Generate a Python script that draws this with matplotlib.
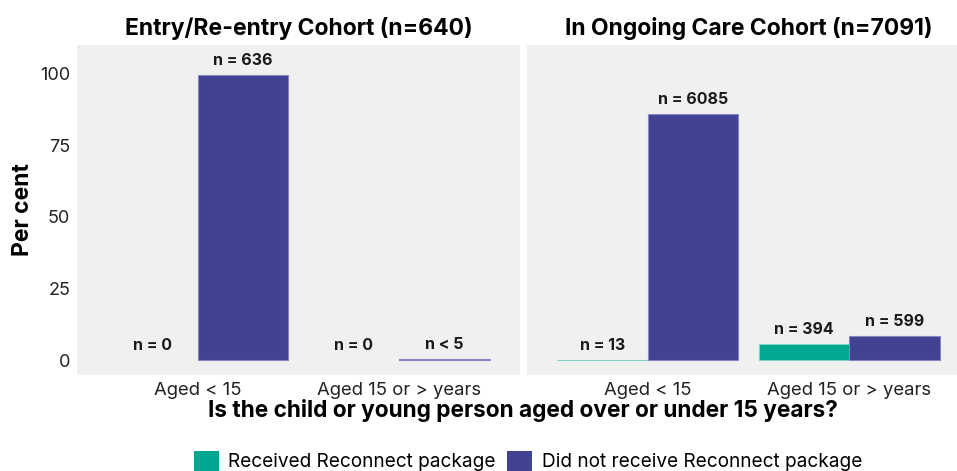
import numpy as np
import matplotlib.pyplot as plt
from matplotlib.patches import Patch

plt.rcParams['font.family'] = ['Inter', 'DejaVu Sans']

# counts per cohort, age group and package status
cohorts = ['Entry/Re-entry Cohort (n=640)', 'In Ongoing Care Cohort (n=7091)']
cohort_totals = [640, 7091]
age_groups = ['Aged < 15', 'Aged 15 or > years']
received_n = [[0, 0], [13, 394]]
not_received_n = [[636, 3], [6085, 599]]
series_names = ['Received Reconnect package', 'Did not receive Reconnect package']

teal = '#00A88F'
purple = '#414291'
panel_bg = '#F0F0F0'

def n_label(n):
    if 0 < n < 5:
        return 'n < 5'
    return 'n = %d' % n

fig = plt.figure(figsize=(9.57, 4.71), dpi=100)
W, H = 957.0, 471.0

# panels share the same size, the second one runs past the right edge
panel_left = [77, 527]
panel_w = 443
panel_top, panel_bot = 45, 375

x = np.arange(1, len(age_groups) + 1)
bw = 0.45

axes = []
for i, cohort in enumerate(cohorts):
    ax = fig.add_axes([panel_left[i] / W, (H - panel_bot) / H,
                       panel_w / W, (panel_bot - panel_top) / H])
    ax.set_facecolor(panel_bg)
    for s in ax.spines.values():
        s.set_visible(False)

    rec = np.array(received_n[i]) / cohort_totals[i] * 100
    notrec = np.array(not_received_n[i]) / cohort_totals[i] * 100

    # zero bars get no outline so nothing shows for them
    ax.bar(x - bw / 2, rec, bw, color=teal, edgecolor='#7fd3c6',
           linewidth=[0.8 if v > 0 else 0 for v in rec])
    ax.bar(x + bw / 2, notrec, bw, color=purple, edgecolor='#8586c4',
           linewidth=[0.8 if v > 0 else 0 for v in notrec])

    for j in range(len(age_groups)):
        ax.annotate(n_label(received_n[i][j]), (x[j] - bw / 2, rec[j]),
                    xytext=(0, 5), textcoords='offset points',
                    ha='center', va='bottom', fontsize=11.5, fontweight='bold',
                    color='#1a1a1a')
        ax.annotate(n_label(not_received_n[i][j]), (x[j] + bw / 2, notrec[j]),
                    xytext=(0, 5), textcoords='offset points',
                    ha='center', va='bottom', fontsize=11.5, fontweight='bold',
                    color='#1a1a1a')

    ax.set_xlim(0.4, 2.6)
    ax.set_ylim(-5.2, 109.9)
    ax.set_xticks(x)
    ax.set_xticklabels(age_groups, fontsize=13.3, color='#222222')
    ax.set_yticks([0, 25, 50, 75, 100])
    ax.tick_params(length=0, pad=5)
    if i == 0:
        ax.set_yticklabels(['0', '25', '50', '75', '100'], fontsize=13, color='#222222')
        ax.set_ylabel('Per cent', fontsize=16.5, fontweight='bold', labelpad=4)
    else:
        ax.set_yticklabels([])
    ax.set_title(cohort, fontsize=16.5, fontweight='bold', pad=7)
    axes.append(ax)

fig.text(523 / W, 1 - 411 / H, 'Is the child or young person aged over or under 15 years?',
         ha='center', va='center', fontsize=16.3, fontweight='bold')

handles = [Patch(facecolor=teal, edgecolor='none'),
           Patch(facecolor=purple, edgecolor='none')]
fig.legend(handles, series_names, loc='center', bbox_to_anchor=(528 / W, 1 - 461 / H),
           ncol=2, frameon=False, fontsize=13.7, handlelength=1.3, handleheight=1.3,
           handletextpad=0.5, columnspacing=0.6)

fig.savefig('out.png', dpi=100)
